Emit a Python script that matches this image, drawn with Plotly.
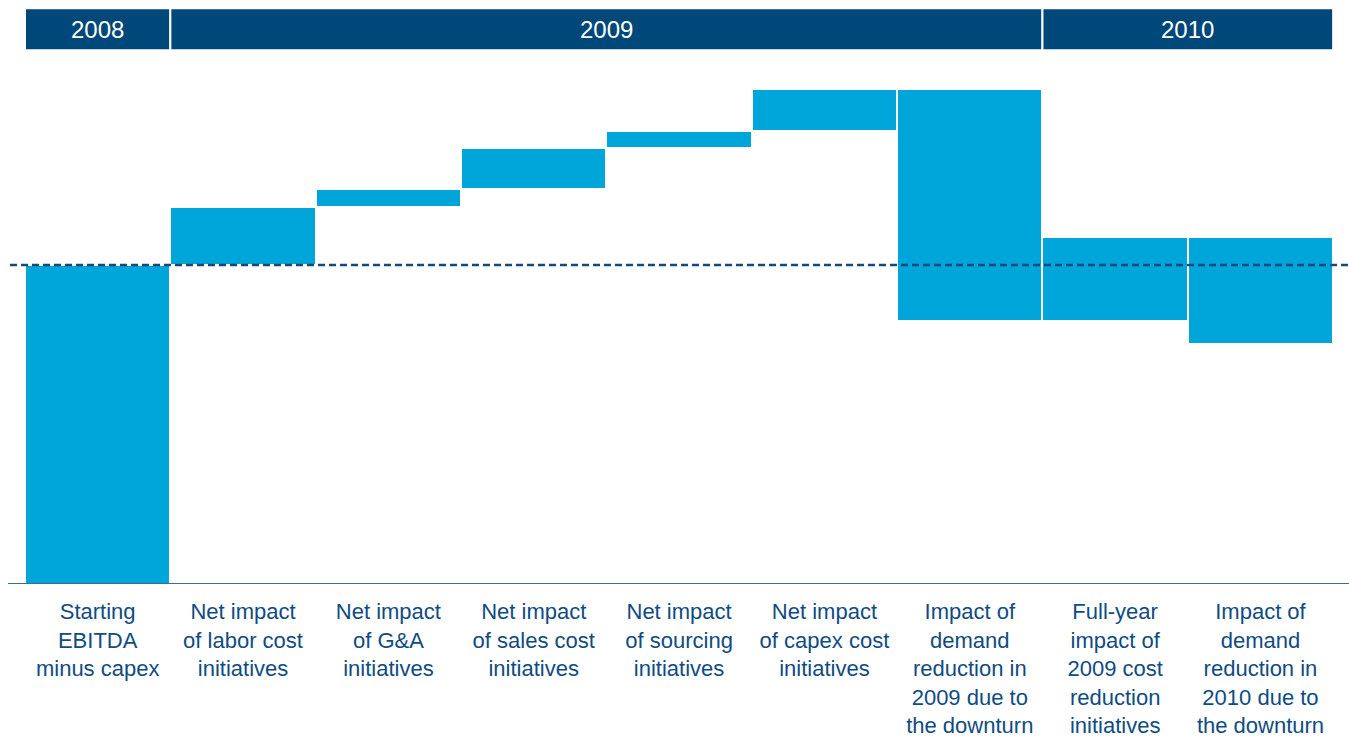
import plotly.graph_objects as go

# ---- data ----
categories = [
    "Starting<br>EBITDA<br>minus capex",
    "Net impact<br>of labor cost<br>initiatives",
    "Net impact<br>of G&A<br>initiatives",
    "Net impact<br>of sales cost<br>initiatives",
    "Net impact<br>of sourcing<br>initiatives",
    "Net impact<br>of capex cost<br>initiatives",
    "Impact of<br>demand<br>reduction in<br>2009 due to<br>the downturn",
    "Full-year<br>impact of<br>2009 cost<br>reduction<br>initiatives",
    "Impact of<br>demand<br>reduction in<br>2010 due to<br>the downturn",
]
measures = ["absolute", "relative", "relative", "relative", "relative",
            "relative", "relative", "relative", "relative"]
values = [100, 18.3, 5.4, 13.1, 5.3, 13.1, -72.8, 26.4, -33.6]
baseline_value = 100
year_labels = ["2008", "2009", "2010"]
year_spans = [(0, 0), (1, 6), (7, 8)]  # category index ranges

BAR = "#00A6DA"
DARK = "#00477A"
TEXT = "#104C82"
FONT = "Liberation Sans, Arial, Helvetica, sans-serif"

x_idx = list(range(len(categories)))

fig = go.Figure()
fig.add_trace(go.Waterfall(
    x=x_idx,
    y=values,
    measure=measures,
    increasing=dict(marker=dict(color=BAR, line=dict(color="white", width=2))),
    decreasing=dict(marker=dict(color=BAR, line=dict(color="white", width=2))),
    totals=dict(marker=dict(color=BAR, line=dict(color="white", width=2))),
    connector=dict(visible=False),
    hoverinfo="skip",
    showlegend=False,
))

W, H = 1349, 737
ml, mr, mt, mb = 8, 0, 8, 153
plot_h = H - mt - mb
px_per_unit = 3.19
y_top = plot_h / px_per_unit
slot = 145.35
x_lo = -0.5 - 17 / slot
x_hi = x_lo + (W - ml - mr) / slot

shapes = []
# year header boxes
for (a, b) in year_spans:
    shapes.append(dict(type="rect", xref="x", yref="paper",
                       x0=a - 0.5, x1=b + 0.5,
                       y0=1 - 42.3 / plot_h, y1=1 - 0.3 / plot_h,
                       fillcolor=DARK, line=dict(color="white", width=2),
                       layer="above"))
# baseline axis line
shapes.append(dict(type="line", xref="paper", yref="y",
                   x0=0, x1=1, y0=0, y1=0,
                   line=dict(color="#3F6A93", width=2), layer="above"))
# dotted reference line at starting value
shapes.append(dict(type="line", xref="paper", yref="y",
                   x0=2 / (W - ml - mr), x1=1, y0=baseline_value, y1=baseline_value,
                   line=dict(color="#174A7C", width=2.5, dash="7px,4px"),
                   layer="above"))

annotations = []
for lab, (a, b) in zip(year_labels, year_spans):
    annotations.append(dict(x=(a + b) / 2, xref="x", y=1 - 21 / plot_h, yref="paper",
                            text=lab, showarrow=False, xanchor="center", yanchor="middle",
                            font=dict(family=FONT, size=24, color="white")))

fig.update_layout(
    width=W, height=H,
    margin=dict(l=ml, r=mr, t=mt, b=mb, pad=0),
    paper_bgcolor="white", plot_bgcolor="white",
    waterfallgap=0,
    shapes=shapes,
    annotations=annotations,
    xaxis=dict(range=[x_lo, x_hi], tickvals=x_idx, ticktext=categories,
               showgrid=False, zeroline=False, showline=False, ticks="",
               ticklabelstandoff=12,
               tickfont=dict(family=FONT, size=22, color=TEXT),
               automargin=False, fixedrange=True),
    yaxis=dict(range=[0, y_top], showgrid=False, zeroline=False, showline=False,
               showticklabels=False, ticks="", automargin=False, fixedrange=True),
)

fig.write_html("out.html", config={"displayModeBar": False})
